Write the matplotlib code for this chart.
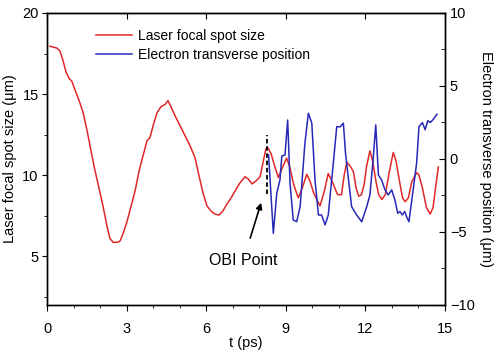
import matplotlib
matplotlib.use("Agg")
import matplotlib.pyplot as plt
from matplotlib.ticker import MultipleLocator

plt.rcParams['font.family'] = ['Liberation Sans', 'DejaVu Sans']
plt.rcParams['font.size'] = 10

# Laser focal spot size (left axis, um) vs t (ps)
t_laser = [0.11, 0.38, 0.49, 0.60, 0.72, 0.83, 0.94, 1.06, 1.21, 1.36, 1.51, 1.66,
           1.81, 1.96, 2.11, 2.26, 2.37, 2.49, 2.64, 2.75, 2.86, 3.02, 3.17, 3.32,
           3.47, 3.62, 3.77, 3.88, 4.00, 4.15, 4.30, 4.45, 4.56, 4.67, 4.82, 5.01,
           5.20, 5.39, 5.58, 5.73, 5.88, 6.03, 6.18, 6.33, 6.48, 6.63, 6.78, 6.94,
           7.09, 7.27, 7.46, 7.58, 7.73, 7.88, 8.03, 8.14, 8.25, 8.33, 8.45, 8.59,
           8.72, 8.88, 9.03, 9.15, 9.30, 9.47, 9.62, 9.79, 9.92, 10.05, 10.29, 10.45,
           10.60, 10.75, 10.95, 11.10, 11.20, 11.30, 11.45, 11.55, 11.65, 11.75, 11.85,
           11.95, 12.05, 12.17, 12.27, 12.40, 12.50, 12.62, 12.75, 12.90, 13.05, 13.15,
           13.30, 13.40, 13.50, 13.62, 13.75, 13.93, 14.02, 14.15, 14.30, 14.44, 14.55,
           14.65, 14.75]
spot_size = [17.95, 17.83, 17.64, 17.09, 16.34, 15.97, 15.78, 15.23, 14.60, 13.86, 12.75, 11.50,
             10.27, 9.20, 8.10, 6.86, 6.11, 5.86, 5.86, 5.93, 6.36, 7.17, 8.10, 9.03,
             10.27, 11.20, 12.13, 12.31, 13.06, 13.86, 14.23, 14.36, 14.60, 14.23, 13.68, 13.06,
             12.44, 11.82, 11.07, 9.96, 8.90, 8.10, 7.79, 7.60, 7.54, 7.79, 8.22, 8.60,
             9.03, 9.52, 9.90, 9.77, 9.46, 9.65, 9.90, 10.76, 11.63, 11.69, 11.30, 10.50,
             9.85, 10.50, 11.05, 10.50, 9.40, 8.60, 9.20, 10.05, 9.60, 8.90, 8.10, 9.00,
             10.10, 9.60, 8.80, 8.80, 10.00, 10.80, 10.50, 10.20, 9.20, 8.70, 8.80,
             9.40, 10.60, 11.50, 10.90, 9.60, 8.80, 8.50, 8.80, 10.20, 11.40, 10.90,
             9.50, 8.60, 8.36, 8.60, 9.60, 10.16, 10.00, 9.20, 8.00, 7.60, 8.00,
             9.30, 10.50]

# Electron transverse position (right axis, um)
t_elec = [8.35, 8.53, 8.66, 8.78, 8.85, 8.97, 9.07, 9.16, 9.28, 9.41, 9.54, 9.72,
          9.85, 9.98, 10.10, 10.23, 10.35, 10.48, 10.60, 10.79, 10.92, 11.05, 11.17,
          11.25, 11.48, 11.67, 11.86, 12.05, 12.17, 12.30, 12.39, 12.49, 12.61, 12.74,
          12.86, 12.99, 13.11, 13.22, 13.30, 13.39, 13.48, 13.55, 13.64, 13.75, 13.93,
          14.02, 14.15, 14.25, 14.35, 14.45, 14.55, 14.70]
position = [0.30, -5.10, -2.35, -1.44, 0.20, 0.27, 2.67, -1.66, -4.18, -4.30, -3.27, 1.07,
            3.13, 2.45, -1.44, -3.84, -3.84, -4.52, -3.84, -0.30, 2.21, 2.20, 2.45,
            0.40, -3.27, -3.84, -4.30, -3.27, -2.47, 0.16, 2.33, -1.10, -1.44, -2.12,
            -2.47, -2.12, -2.80, -3.72, -3.60, -3.84, -3.60, -3.95, -4.30, -2.80, -0.30,
            2.21, 2.49, 2.00, 2.62, 2.50, 2.70, 3.06]

x_ticks = [0, 3, 6, 9, 12, 15]
obi_t = 8.31

fig = plt.figure(figsize=(5, 3.6), dpi=100)
ax = fig.add_axes([0.094, 0.153, 0.796, 0.811])
ax2 = ax.twinx()

l1, = ax.plot(t_laser, spot_size, color='#e02828', lw=1.1, label='Laser focal spot size')
l2, = ax2.plot(t_elec, position, color='#2828b8', lw=1.1, label='Electron transverse position')

# OBI marker
ax.plot([obi_t, obi_t], [8.85, 12.45], color='black', ls='--', lw=1.3, dashes=(2.5, 1.5))
ax.annotate('OBI Point', xy=(8.07, 8.3), xytext=(7.4, 4.75),
            ha='center', va='center', fontsize=11.5,
            arrowprops=dict(arrowstyle='-|>', color='black', lw=1.2,
                            mutation_scale=9, shrinkA=9, shrinkB=0))

ax.set_xlim(0, 15)
ax.set_ylim(2, 20)
ax2.set_ylim(-10, 10)
ax.set_xticks(x_ticks)
ax.set_yticks([5, 10, 15, 20])
ax2.set_yticks([-10, -5, 0, 5, 10])
ax.xaxis.set_minor_locator(MultipleLocator(1))
ax.yaxis.set_minor_locator(MultipleLocator(2.5))
ax2.yaxis.set_minor_locator(MultipleLocator(2.5))

# left / bottom ticks point out, top / right ticks point in
ax.tick_params(which='both', direction='out', top=False, right=False, labelsize=10.5)
ax.tick_params(axis='x', which='major', length=4, pad=8)
ax.tick_params(axis='x', which='minor', length=2.5)
ax.tick_params(axis='y', which='major', length=3.5, pad=2.5)
ax.tick_params(axis='y', which='minor', length=2)
ax2.tick_params(which='both', direction='in', labelsize=10.5)
ax2.tick_params(which='major', length=4.5)
ax2.tick_params(which='minor', length=3)

top = ax.secondary_xaxis('top')
top.set_xticks(x_ticks)
top.tick_params(direction='in', length=4.5, labeltop=False)

ax.set_xlabel('t (ps)', fontsize=10.5, labelpad=0)
ax.set_ylabel('Laser focal spot size (μm)', fontsize=10.5, labelpad=4)
ax2.set_ylabel('Electron transverse position (μm)', fontsize=10.5, rotation=270, labelpad=13)

for a in (ax, ax2):
    for s in a.spines.values():
        s.set_linewidth(1.0)

ax.legend(handles=[l1, l2], loc='upper left', bbox_to_anchor=(0.11, 0.965),
          frameon=False, fontsize=10, handlelength=2.6, handletextpad=0.4,
          labelspacing=0.35, borderaxespad=0)

fig.savefig('out.png', dpi=100)
